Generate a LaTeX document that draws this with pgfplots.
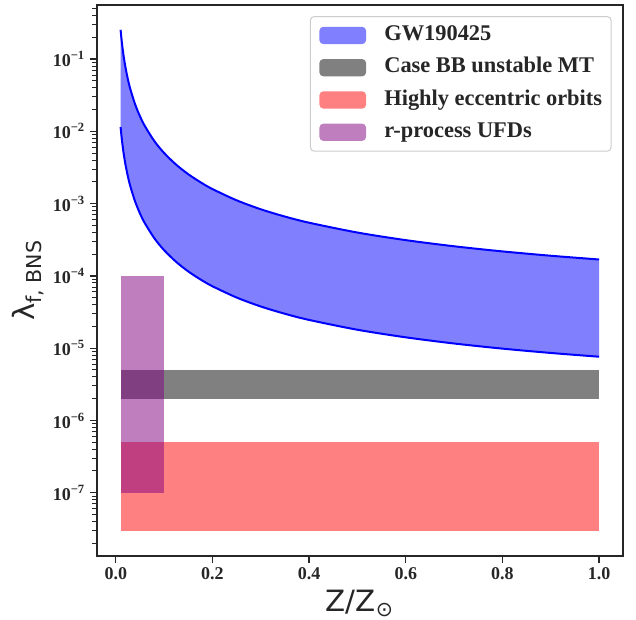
\documentclass[border=0pt]{standalone}
\usepackage{fontspec}
\setmainfont{Liberation Serif}
\newfontfamily\dejavu{DejaVu Sans}
\usepackage{pgfplots}
\usepackage{pgfplotstable}
\pgfplotsset{compat=1.18}
\usepgfplotslibrary{fillbetween}

\definecolor{axgray}{HTML}{262626}
\definecolor{gwblue}{HTML}{8080FF}
\definecolor{bbgray}{HTML}{808080}
\definecolor{eccred}{HTML}{FF8080}
\definecolor{ufdpurple}{HTML}{800080}
\definecolor{leggray}{HTML}{CCCCCC}

% GW190425 band, upper and lower edge
\pgfplotstableread{
z      up        lo
0.01   0.2541    0.01148
0.0115 0.2000    0.009036
0.013  0.1618    0.007311
0.016  0.1132    0.005117
0.02   0.07745   0.003499
0.025  0.05284   0.002388
0.03   0.03873   0.001750
0.04   0.02371   0.001072
0.05   0.01622   7.328e-4
0.06   0.01191   5.383e-4
0.08   0.007311  3.304e-4
0.1    0.005023  2.270e-4
0.125  0.003459  1.563e-4
0.15   0.002553  1.153e-4
0.175  0.001982  8.954e-5
0.2    0.001592  7.194e-5
0.25   0.001112  5.023e-5
0.3    8.356e-4  3.776e-5
0.35   6.622e-4  2.992e-5
0.4    5.445e-4  2.460e-5
0.5    3.981e-4  1.799e-5
0.6    3.126e-4  1.413e-5
0.7    2.570e-4  1.161e-5
0.8    2.183e-4  9.863e-6
0.9    1.901e-4  8.590e-6
1.0    1.687e-4  7.621e-6
}\gwdata

\begin{document}
\begin{tikzpicture}
\begin{axis}[
    scale only axis,
    width=394.7pt, height=413.25pt,
    at={(0,0)}, anchor=south west,
    ymode=log,
    xmin=-0.0395, xmax=1.0495,
    ymin=1.33e-8, ymax=0.56,
    xtick={0,0.2,0.4,0.6,0.8,1.0},
    xticklabels={0.0,0.2,0.4,0.6,0.8,1.0},
    ytick={1e-7,1e-6,1e-5,1e-4,1e-3,1e-2,1e-1},
    yticklabels={10\textsuperscript{−7},10\textsuperscript{−6},10\textsuperscript{−5},10\textsuperscript{−4},10\textsuperscript{−3},10\textsuperscript{−2},10\textsuperscript{−1}},
    minor ytick={2e-8,3e-8,4e-8,5e-8,6e-8,7e-8,8e-8,9e-8,
                 2e-7,3e-7,4e-7,5e-7,6e-7,7e-7,8e-7,9e-7,
                 2e-6,3e-6,4e-6,5e-6,6e-6,7e-6,8e-6,9e-6,
                 2e-5,3e-5,4e-5,5e-5,6e-5,7e-5,8e-5,9e-5,
                 2e-4,3e-4,4e-4,5e-4,6e-4,7e-4,8e-4,9e-4,
                 2e-3,3e-3,4e-3,5e-3,6e-3,7e-3,8e-3,9e-3,
                 2e-2,3e-2,4e-2,5e-2,6e-2,7e-2,8e-2,9e-2,
                 2e-1,3e-1,4e-1,5e-1},
    tick pos=left,
    tick align=outside,
    major tick length=5.25pt,
    minor tick length=3.5pt,
    every tick/.append style={axgray, line width=1pt},
    every minor tick/.append style={line width=0.75pt},
    axis line style={axgray, line width=1.25pt},
    tick label style={font=\bfseries\fontsize{13.5}{16}\selectfont, text=axgray},
    xlabel={\dejavu Z/Z\textsubscript{⊙}},
    ylabel={\dejavu λ\textsubscript{f, BNS}},
    label style={font=\fontsize{22}{26}\selectfont, text=axgray},
    xlabel style={at={(axis description cs:0.5,-0.1015)}, anchor=base},
    ylabel style={at={(axis description cs:-0.1172,0.5)}, anchor=base},
    legend image code/.code={\fill[#1] (0pt,-6.5pt) rectangle (35pt,6.5pt);},
    legend cell align=left,
    legend style={at={(1,1)}, anchor=north east, xshift=-8.5pt, yshift=-8.25pt,
        draw=leggray, line width=0.75pt, rounded corners=3pt, fill=white,
        inner xsep=6.8pt, inner ysep=6.6pt, row sep=9pt, column sep=13.7pt,
        font=\bfseries\fontsize{16.8}{19}\selectfont, text=axgray,
        nodes={inner sep=0pt, text height=11.5pt, text depth=3.7pt}},
]
\addlegendimage{fill=gwblue, draw=none}
\addlegendentry{GW190425}

\addplot[draw=none, forget plot, smooth, name path=up] table[x=z, y=up] {\gwdata};
\addplot[draw=none, forget plot, smooth, name path=lo] table[x=z, y=lo] {\gwdata};
\addplot[fill=gwblue, draw=none, forget plot] fill between[of=up and lo];

\addplot[fill=bbgray, draw=none] coordinates {(0.01,2e-6) (1.0,2e-6) (1.0,5e-6) (0.01,5e-6)} -- cycle;
\addlegendentry{Case BB unstable MT}

\addplot[fill=eccred, draw=none] coordinates {(0.01,3e-8) (1.0,3e-8) (1.0,5e-7) (0.01,5e-7)} -- cycle;
\addlegendentry{Highly eccentric orbits}

\addplot[fill=ufdpurple, fill opacity=0.5, draw=none] coordinates {(0.01,1e-7) (0.1,1e-7) (0.1,1e-4) (0.01,1e-4)} -- cycle;
\addlegendentry{r-process UFDs}

\addplot[blue, line width=1.5pt, smooth, forget plot] table[x=z, y=up] {\gwdata};
\addplot[blue, line width=1.5pt, smooth, forget plot] table[x=z, y=lo] {\gwdata};
\end{axis}
\pgfresetboundingbox
\useasboundingbox (-72.5pt,-47.25pt) rectangle (404.45pt,417pt);
\end{tikzpicture}
\end{document}
